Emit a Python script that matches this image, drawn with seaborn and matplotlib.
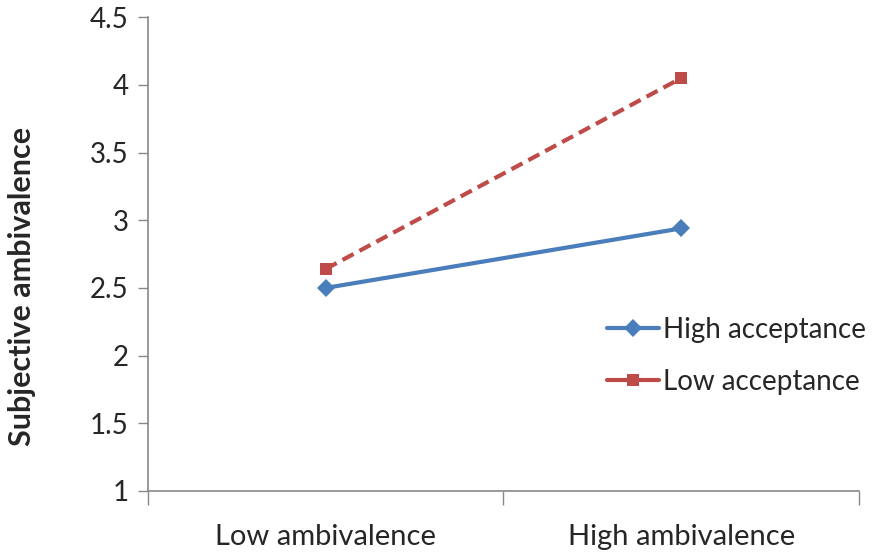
import matplotlib.pyplot as plt
import pandas as pd
import seaborn as sns

# Data
conditions = ['Low ambivalence', 'High ambivalence']
high_acceptance = [2.50, 2.94]
low_acceptance = [2.64, 4.05]

df = pd.DataFrame({
    'Condition': conditions * 2,
    'Subjective ambivalence': high_acceptance + low_acceptance,
    'Group': ['High acceptance'] * 2 + ['Low acceptance'] * 2,
})
df['pos'] = df['Condition'].map({c: i for i, c in enumerate(conditions)})

sns.set_style('ticks')
plt.rcParams['font.family'] = ['Lato', 'DejaVu Sans']

fig = plt.figure(figsize=(8.91, 5.56), dpi=100)
ax = fig.add_axes([0.166, 0.117, 0.798, 0.852])

palette = {'High acceptance': '#4A7EBB', 'Low acceptance': '#BE4B48'}
sns.lineplot(data=df, x='pos', y='Subjective ambivalence', hue='Group',
             style='Group', palette=palette,
             markers={'High acceptance': 'D', 'Low acceptance': 's'},
             dashes={'High acceptance': '', 'Low acceptance': (3, 1.6)},
             linewidth=3, markersize=9, markeredgewidth=0, ax=ax)

ax.set_xlim(-0.5, 1.5)
ax.set_ylim(1, 4.5)
ax.set_yticks([1, 1.5, 2, 2.5, 3, 3.5, 4, 4.5])
ax.set_yticklabels(['1', '1.5', '2', '2.5', '3', '3.5', '4', '4.5'])
ax.set_xticks([-0.5, 0.5, 1.5])
ax.set_xticklabels([])
ax.set_xticks([0, 1], minor=True)
ax.set_xticklabels(conditions, minor=True)
ax.tick_params(axis='x', which='major', length=10, width=1, color='#888888')
ax.tick_params(axis='x', which='minor', length=0, pad=24, labelsize=21)
ax.tick_params(axis='y', length=7, width=1, color='#888888', labelsize=20, pad=7)

ax.set_xlabel('')
ax.set_ylabel('Subjective ambivalence', fontsize=22, fontweight='bold')
ax.yaxis.set_label_coords(-0.158, 0.432)

for s in ['top', 'right']:
    ax.spines[s].set_visible(False)
for s in ['left', 'bottom']:
    ax.spines[s].set_color('#888888')
    ax.spines[s].set_linewidth(1.2)

leg = ax.legend(loc='center left', bbox_to_anchor=(0.645, 0.285), frameon=False,
                fontsize=20, handlelength=1.9, handletextpad=0.15, labelspacing=0.95,
                borderpad=0, borderaxespad=0)
for h in leg.legend_handles:
    h.set_linestyle('-')

fig.savefig('out.png', dpi=100)
